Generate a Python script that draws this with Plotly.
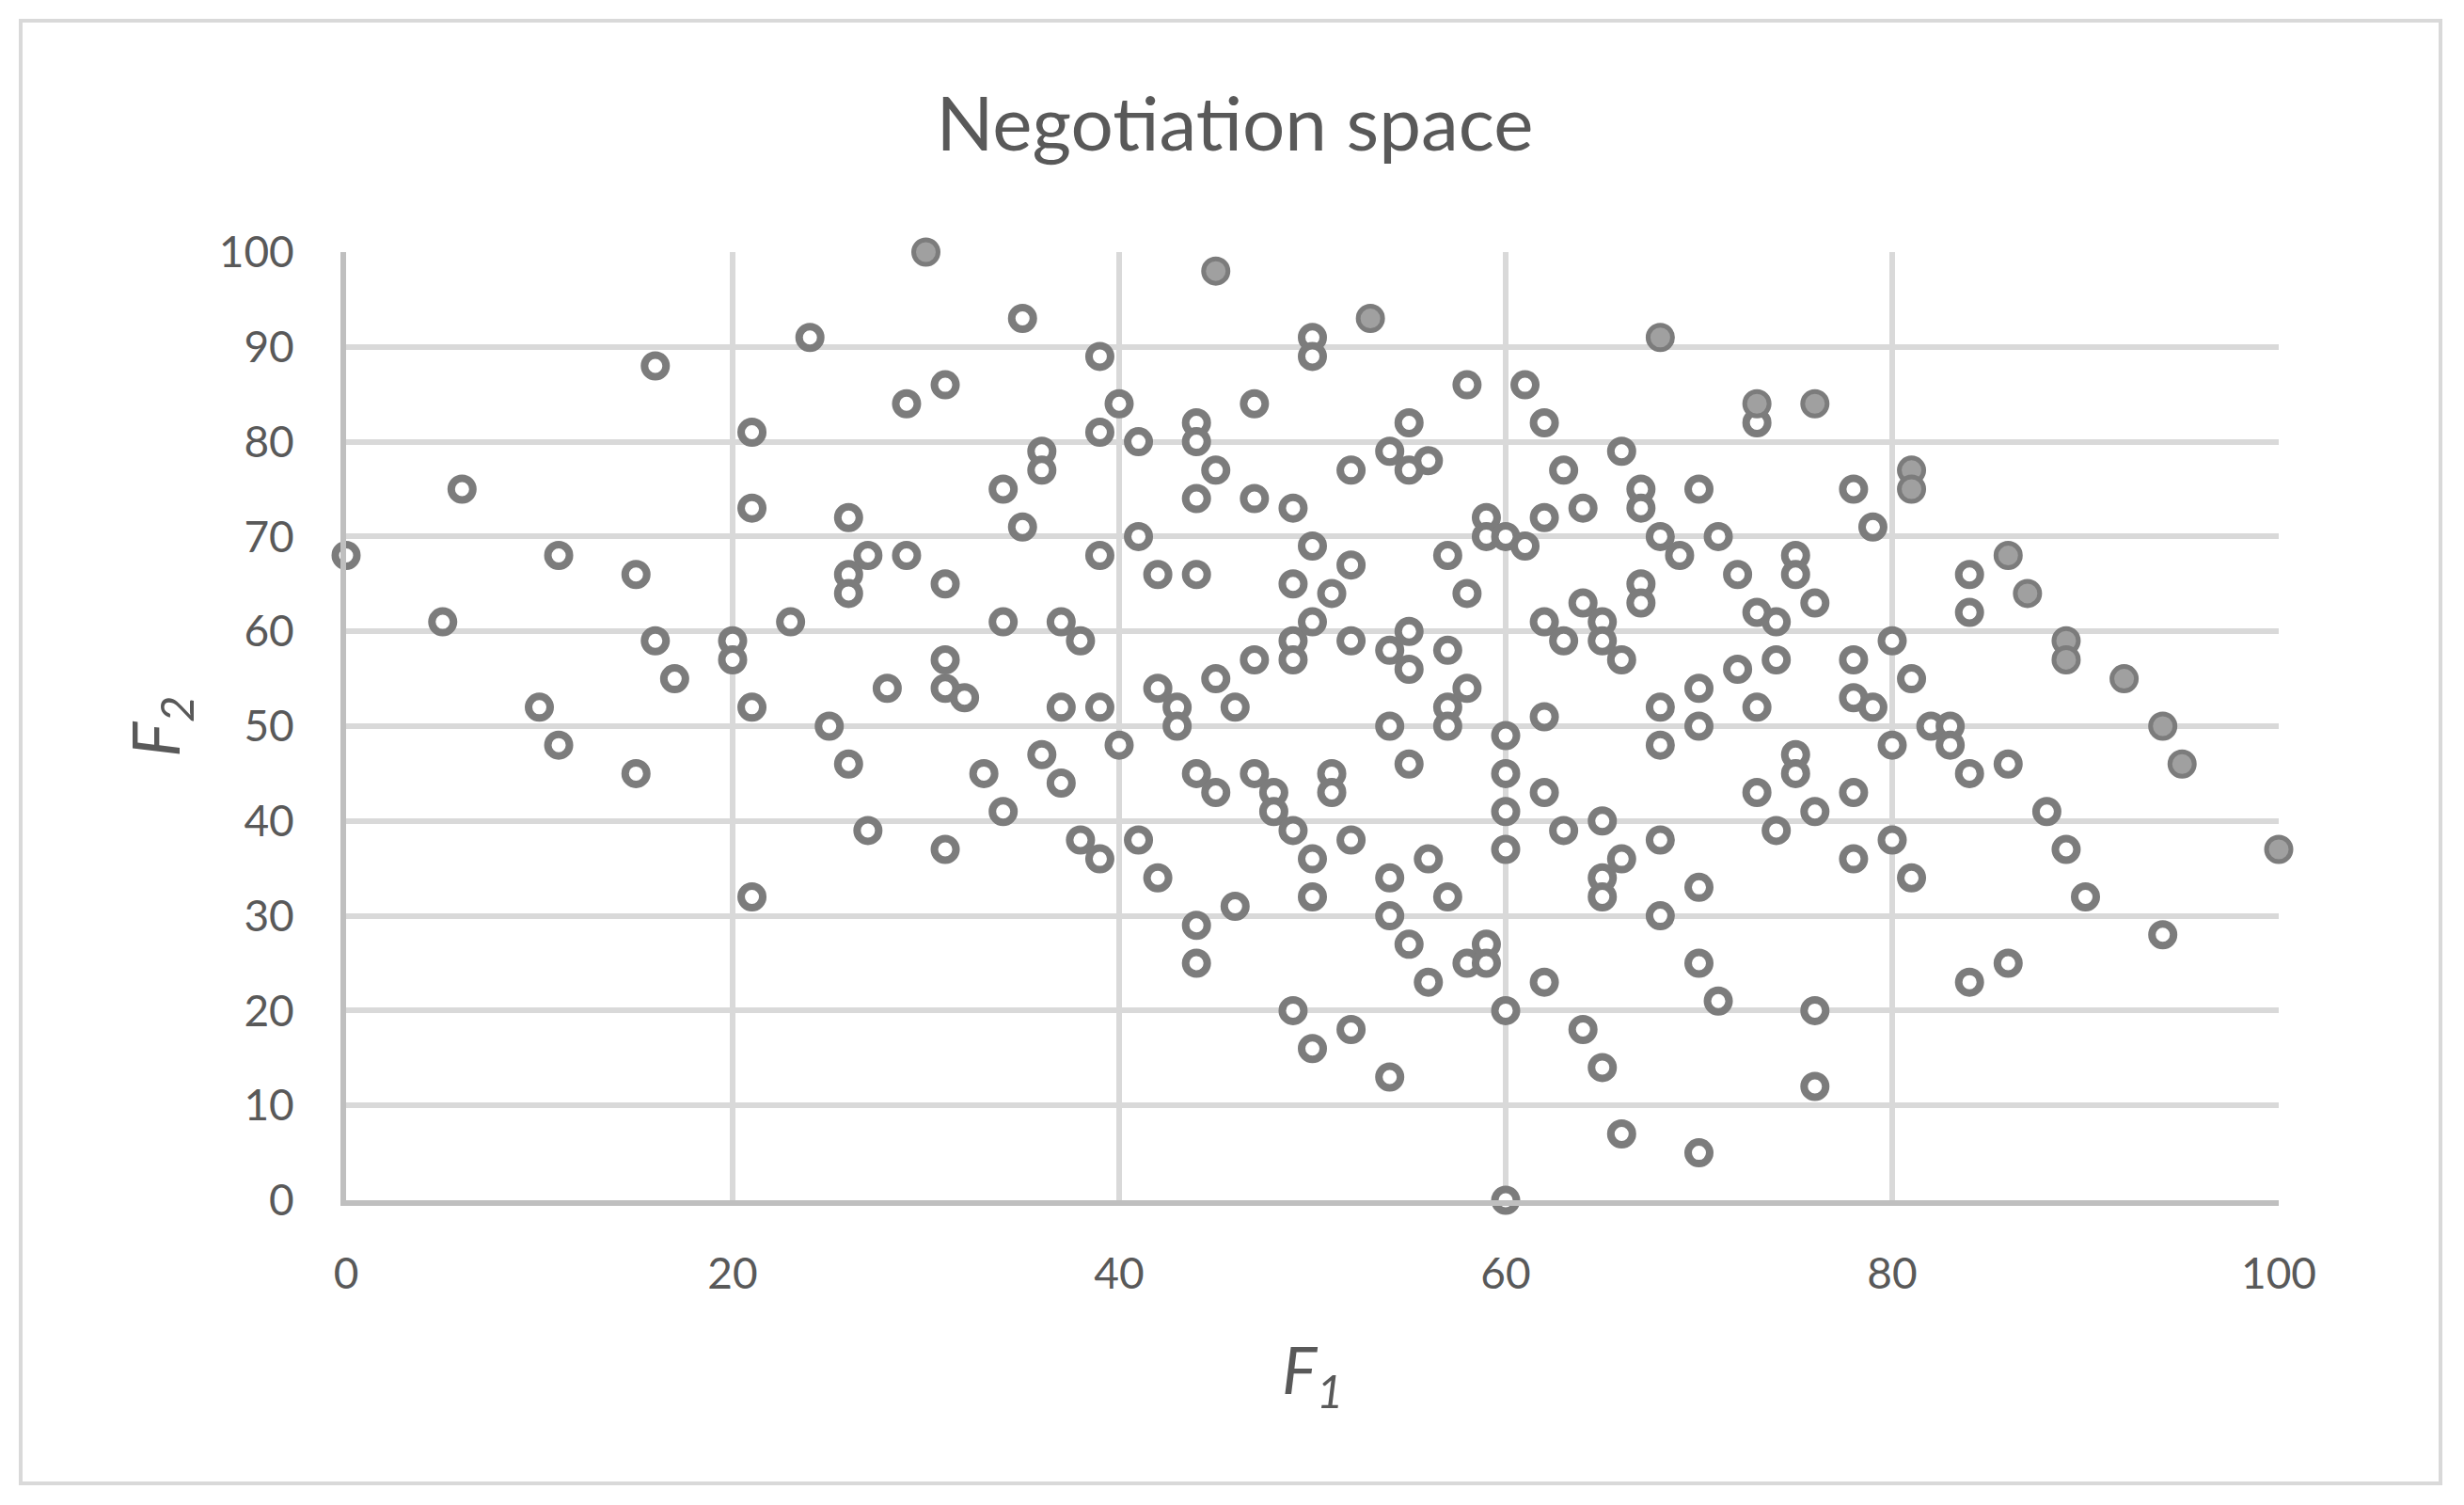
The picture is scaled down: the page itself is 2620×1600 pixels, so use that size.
import plotly.graph_objects as go

# ---- data ----
open_f1 = [0, 5, 6, 10, 11, 11, 15, 15, 16, 16, 17, 20, 20,
           21, 21, 21, 21, 23, 24, 25, 26, 26, 26, 26, 27, 27, 28, 29, 29,
           31, 31, 31, 31, 31, 32, 33, 34, 34, 34, 35, 35, 36, 36, 36,
           37, 37, 37, 38, 38, 39, 39, 39, 39, 39, 40, 40, 41, 41, 41,
           42, 42, 42, 43, 43, 44, 44, 44, 44, 44, 44, 44, 45, 45, 45,
           46, 46, 47, 47, 47, 47, 48, 48, 49, 49, 49, 49, 49, 49,
           50, 50, 50, 50, 50, 50, 50, 51, 51, 51, 52, 52, 52, 52, 52,
           54, 54, 54, 54, 54, 54, 55, 55, 55, 55, 55, 55, 56, 56, 56,
           57, 57, 57, 57, 57, 58, 58, 58, 58, 59, 59, 59, 59,
           60, 60, 60, 60, 60, 60, 60, 61, 61, 62, 62, 62, 62, 62, 62,
           63, 63, 63, 64, 64, 64, 65, 65, 65, 65, 65, 65, 66, 66, 66, 66,
           67, 67, 67, 67, 68, 68, 68, 68, 68, 69, 70, 70, 70, 70, 70, 70,
           71, 71, 72, 72, 73, 73, 73, 73, 74, 74, 74, 75, 75, 75, 75,
           76, 76, 76, 76, 78, 78, 78, 78, 78, 79, 79, 80, 80, 80, 81, 81,
           82, 83, 83, 84, 84, 84, 84, 86, 86, 88, 89, 90, 94]
open_f2 = [68, 61, 75, 52, 68, 48, 66, 45, 88, 59, 55, 59, 57,
           81, 73, 52, 32, 61, 91, 50, 72, 66, 64, 46, 68, 39, 54, 84, 68,
           86, 65, 57, 54, 37, 53, 45, 75, 61, 41, 93, 71, 79, 77, 47,
           61, 52, 44, 59, 38, 89, 81, 68, 52, 36, 84, 48, 80, 70, 38,
           66, 54, 34, 52, 50, 82, 80, 74, 66, 45, 29, 25, 77, 55, 43,
           52, 31, 84, 74, 57, 45, 43, 41, 73, 65, 59, 57, 39, 20,
           91, 89, 69, 61, 36, 32, 16, 64, 45, 43, 77, 67, 59, 38, 18,
           79, 58, 50, 34, 30, 13, 82, 77, 60, 56, 46, 27, 78, 36, 23,
           68, 58, 52, 50, 32, 86, 64, 54, 25, 72, 70, 27, 25,
           70, 49, 45, 41, 37, 20, 0, 86, 69, 82, 72, 61, 51, 43, 23,
           77, 59, 39, 73, 63, 18, 61, 59, 40, 34, 32, 14, 79, 57, 36, 7,
           75, 73, 65, 63, 70, 52, 48, 38, 30, 68, 75, 54, 50, 33, 25, 5,
           70, 21, 66, 56, 82, 62, 52, 43, 61, 57, 39, 68, 66, 47, 45,
           63, 41, 20, 12, 75, 57, 53, 43, 36, 71, 52, 59, 48, 38, 55, 34,
           50, 50, 48, 66, 62, 45, 23, 46, 25, 41, 37, 32, 28]

pareto_f1 = [30, 45, 53, 68, 73, 76, 81, 81, 86, 87, 89, 89, 92, 94, 95, 100]
pareto_f2 = [100, 98, 93, 91, 84, 84, 77, 75, 68, 64, 59, 57, 55, 50, 46, 37]

x_ticks = [0, 20, 40, 60, 80, 100]
y_ticks = [0, 10, 20, 30, 40, 50, 60, 70, 80, 90, 100]
title_text = "Negotiation space"
x_title = "<i>F</i><sub><i>1</i></sub>"
y_title = "<i>F</i><sub><i>2</i></sub>"

assert len(open_f1) == len(open_f2)

# ---- style ----
W, H = 2620, 1600
OFF = 8                                   # page body margin
L, R, T, B = 368 - OFF, 2423 - OFF, 268 - OFF, 1276 - OFF
PW, PH = R - L, B - T
FONT = "Lato"
TXT = "#595959"
GRID = "#d9d9d9"
AXL = "#bfbfbf"
MK = "#7c7c7c"


def px_x(p):
    return (p - OFF - L) / PW


def px_y(p):
    return (B - (p - OFF)) / PH


fig = go.Figure()
fig.add_trace(go.Scatter(
    x=open_f1, y=open_f2, mode="markers", cliponaxis=False,
    marker=dict(symbol="circle", size=23, color="white",
                line=dict(color=MK, width=8)),
    showlegend=False, hoverinfo="x+y"))
fig.add_trace(go.Scatter(
    x=pareto_f1, y=pareto_f2, mode="markers", cliponaxis=False,
    marker=dict(symbol="circle", size=26, color="#a0a0a0",
                line=dict(color=MK, width=5)),
    showlegend=False, hoverinfo="x+y"))

axis_common = dict(
    range=[0, 100], showgrid=True, gridcolor=GRID, gridwidth=6,
    showline=True, linecolor=AXL, linewidth=6, zeroline=False,
    ticks="", tickfont=dict(family=FONT, size=46, color=TXT),
    fixedrange=True,
)

fig.update_layout(
    width=W, height=H,
    margin=dict(l=L, r=W - R, t=T, b=H - B, autoexpand=False),
    paper_bgcolor="white", plot_bgcolor="white",
    title=dict(text=title_text, x=(1313 - OFF) / W, xref="container",
               xanchor="center",
               y=1 - (132 - OFF) / H, yref="container", yanchor="middle",
               font=dict(family=FONT, size=80, color=TXT)),
    xaxis=dict(**axis_common, tickvals=x_ticks, ticklabelstandoff=33),
    yaxis=dict(**axis_common, tickvals=y_ticks, ticklabelstandoff=40),
    shapes=[dict(type="rect", xref="paper", yref="paper",
                 x0=px_x(22), x1=px_x(2595), y0=px_y(1577), y1=px_y(22),
                 line=dict(color=GRID, width=4), fillcolor="rgba(0,0,0,0)",
                 layer="below")],
    annotations=[
        dict(text=x_title, xref="paper", yref="paper",
             x=px_x(1396), y=px_y(1460), xanchor="center", yanchor="middle",
             showarrow=False, font=dict(family=FONT, size=70, color=TXT)),
        dict(text=y_title, xref="paper", yref="paper",
             x=px_x(169), y=px_y(772), xanchor="center", yanchor="middle",
             textangle=-90, showarrow=False,
             font=dict(family=FONT, size=70, color=TXT)),
    ],
)

fig.write_html("out.html")
